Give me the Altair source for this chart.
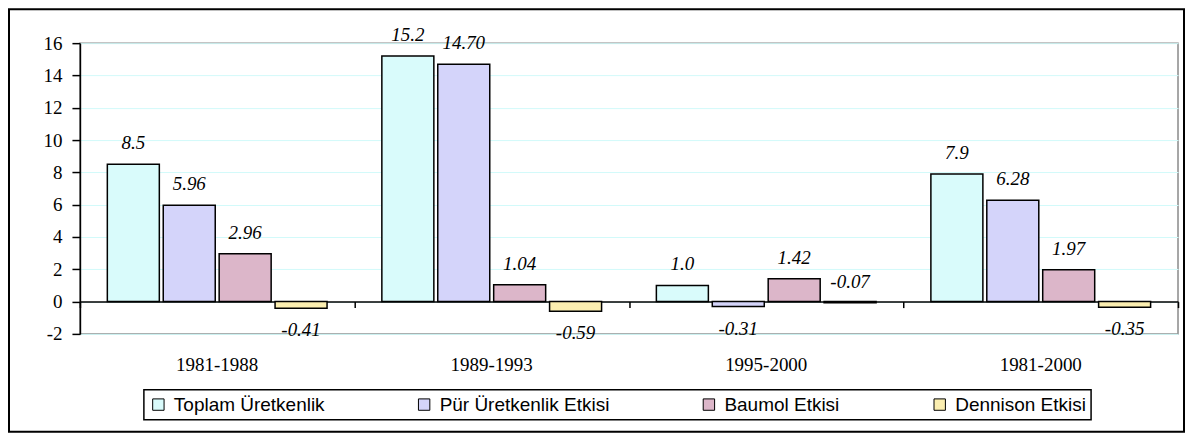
import altair as alt
import pandas as pd

periods = ["1981-1988", "1989-1993", "1995-2000", "1981-2000"]
series = ["Toplam Üretkenlik", "Pür Üretkenlik Etkisi", "Baumol Etkisi", "Dennison Etkisi"]
toplam = [8.5, 15.2, 1.0, 7.9]
pur = [5.96, 14.70, -0.31, 6.28]
baumol = [2.96, 1.04, 1.42, 1.97]
dennison = [-0.41, -0.59, -0.07, -0.35]
decimals = [1, 2, 2, 2]
colors = ["#d9fbfb", "#d4d4fa", "#dcb6c9", "#fbeeb0"]
y_ticks = [-2, 0, 2, 4, 6, 8, 10, 12, 14, 16]

rows = []
for s, vals, d in zip(series, [toplam, pur, baumol, dennison], decimals):
    for p, v in zip(periods, vals):
        rows.append({"period": p, "series": s, "value": v, "label": f"{v:.{d}f}"})
df = pd.DataFrame(rows)

W, H = 1099, 291
serif = "Liberation Serif"
sans = "Liberation Sans"

x_enc_kwargs = dict(sort=periods, scale=alt.Scale(paddingInner=0, paddingOuter=0))
xoff = alt.XOffset("series:N", sort=series,
                   scale=alt.Scale(paddingInner=0.07, paddingOuter=0.49))
y_scale = alt.Scale(domain=[-2, 16], nice=False, zero=False)
y_axis = alt.Axis(values=y_ticks, grid=True, gridColor="#d2fafa", gridWidth=1,
                  domainColor="black", domainWidth=1.5, tickColor="black",
                  tickSize=8, tickWidth=1.5, labelFont=serif, labelFontSize=19,
                  labelColor="black", labelPadding=10, labelOverlap=False,
                  labelBound=False, labelFlush=False,
                  labelExpr="replace(datum.label, '\u2212', '-')")

base = alt.Chart(df)

bars = base.mark_bar(stroke="black", strokeWidth=1.5).encode(
    x=alt.X("period:N", title=None,
            axis=alt.Axis(domain=False, ticks=False, labelFont=serif, labelFontSize=19,
                          labelColor="black", labelPadding=22, labelAngle=0),
            **x_enc_kwargs),
    xOffset=xoff,
    y=alt.Y("value:Q", scale=y_scale, title=None, axis=y_axis),
    color=alt.Color("series:N", sort=series, title=None,
                    scale=alt.Scale(domain=series, range=colors),
                    legend=alt.Legend(orient="none", legendX=64, legendY=347,
                                      direction="horizontal")),
)

labels_up = base.transform_filter("datum.value >= -0.1").mark_text(
    font=serif, fontStyle="italic", fontSize=19, color="black", dy=-21, baseline="middle"
).encode(
    x=alt.X("period:N", **x_enc_kwargs, axis=None),
    xOffset=xoff,
    y=alt.Y("value:Q", scale=y_scale, title=None, axis=y_axis),
    text="label:N",
)

labels_down = base.transform_filter("datum.value < -0.1").mark_text(
    font=serif, fontStyle="italic", fontSize=19, color="black", dy=22, baseline="middle"
).encode(
    x=alt.X("period:N", **x_enc_kwargs, axis=None),
    xOffset=xoff,
    y=alt.Y("value:Q", scale=y_scale, title=None, axis=y_axis),
    text="label:N",
)

zero_axis = base.mark_point(opacity=0).encode(
    x=alt.X("period:N", title=None, **x_enc_kwargs,
            axis=alt.Axis(orient="bottom", offset=-(H * 2 / 18), labels=False,
                          domain=True, domainColor="black", domainWidth=1.5,
                          ticks=True, tickColor="black", tickWidth=1.5, tickSize=6,
                          tickBand="extent", grid=False)),
    y=alt.Y("value:Q", scale=y_scale, title=None, axis=y_axis),
)

frame = alt.Chart(alt.Data(values=[{}])).mark_rect(
    fill=None, stroke="black", strokeWidth=2
).encode(
    x=alt.value(-71), x2=alt.value(1105), y=alt.value(-34), y2=alt.value(389)
)

chart = alt.layer(frame, bars, labels_up, labels_down, zero_axis).resolve_axis(
    x="independent"
).properties(
    width=W, height=H, padding=0
).configure_view(
    stroke="#8a8a8a", strokeWidth=1.5
).configure_legend(
    labelFont=sans, labelFontSize=19, labelColor="black", symbolType="square",
    symbolSize=130, symbolStrokeColor="black", symbolStrokeWidth=1, symbolOpacity=1,
    columnPadding=90, labelOffset=6, padding=5, strokeColor="black", strokeWidth=1.5,
    fillColor="white", labelLimit=400
)

chart.save("out.html", embed_options={"renderer": "svg", "actions": False})
